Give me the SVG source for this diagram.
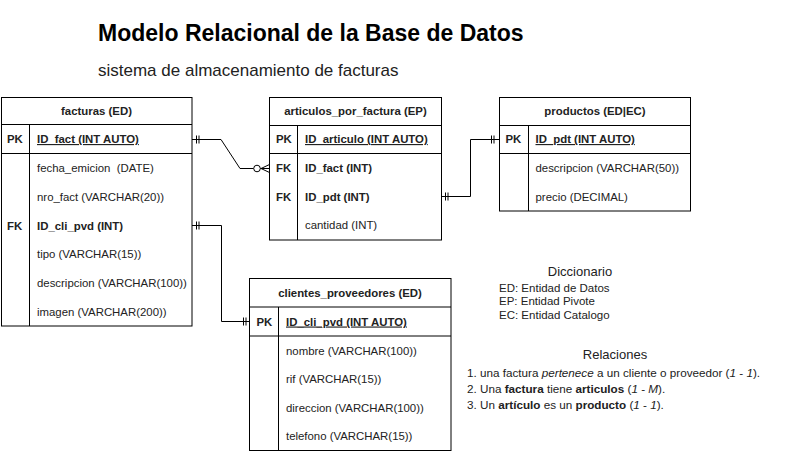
<svg xmlns="http://www.w3.org/2000/svg" width="796" height="451" viewBox="0 0 796 451">
<style>
text{font-family:"Liberation Sans",Arial,sans-serif;fill:#222;white-space:pre}
.tbl{fill:#fff;stroke:#000;stroke-width:1}
.ln{stroke:#000;stroke-width:1;fill:none}
.hd{font-size:11.4px;font-weight:bold;text-anchor:middle}
.key{font-size:11.4px;font-weight:bold}
.f{font-size:11.4px}
.b{font-weight:bold}
.pk{font-weight:bold;text-decoration:underline}
.title{font-size:23px;font-weight:bold;fill:#000}
.sub{font-size:17px}
.dict{font-size:11.5px}
.rel{font-size:11.7px}
.cap{font-size:13px;text-anchor:middle}
.i{font-style:italic}
.conn{stroke:#000;stroke-width:1;fill:none}
</style>
<rect width="796" height="451" fill="#fff"/>
<text class="title" x="98" y="41">Modelo Relacional de la Base de Datos</text>
<text class="sub" x="98" y="76">sistema de almacenamiento de facturas</text>

<g id="facturas">
<rect class="tbl" x="1.5" y="97.5" width="190.5" height="228.5"/>
<path class="ln" d="M1.5 124.5H192M1.5 153.5H192M29.5 124.5V326"/>
<text class="hd" x="96.5" y="114.5">facturas (ED)</text>
<text class="key" x="7" y="143">PK</text>
<text class="f pk" x="37" y="143">ID_fact (INT AUTO)</text>
<text class="f" x="37" y="172" xml:space="preserve">fecha_emicion  (DATE)</text>
<text class="f" x="37" y="200.5">nro_fact (VARCHAR(20))</text>
<text class="key" x="7" y="229.5">FK</text>
<text class="f b" x="37" y="229.5">ID_cli_pvd (INT)</text>
<text class="f" x="37" y="258">tipo (VARCHAR(15))</text>
<text class="f" x="37" y="287">descripcion (VARCHAR(100))</text>
<text class="f" x="37" y="315.5">imagen (VARCHAR(200))</text>
</g>

<g id="articulos_por_factura">
<rect class="tbl" x="269.5" y="97.5" width="172" height="142.5"/>
<path class="ln" d="M269.5 125.5H441.5M269.5 153.5H441.5M297.5 125.5V240"/>
<text class="hd" x="355.5" y="115">articulos_por_factura (EP)</text>
<text class="key" x="276" y="143">PK</text>
<text class="f pk" x="305" y="143">ID_articulo (INT AUTO)</text>
<text class="key" x="276" y="172">FK</text>
<text class="f b" x="305" y="172">ID_fact (INT)</text>
<text class="key" x="276" y="200.5">FK</text>
<text class="f b" x="305" y="200.5">ID_pdt (INT)</text>
<text class="f" x="305" y="229">cantidad (INT)</text>
</g>

<g id="productos">
<rect class="tbl" x="499.5" y="97.5" width="191" height="113.5"/>
<path class="ln" d="M499.5 125.5H690.5M499.5 153.5H690.5M528.5 125.5V211"/>
<text class="hd" x="595" y="115">productos (ED|EC)</text>
<text class="key" x="505.5" y="143">PK</text>
<text class="f pk" x="535.5" y="143">ID_pdt (INT AUTO)</text>
<text class="f" x="535.5" y="172">descripcion (VARCHAR(50))</text>
<text class="f" x="535.5" y="200.5">precio (DECIMAL)</text>
</g>

<g id="clientes_proveedores">
<rect class="tbl" x="249.5" y="278.5" width="201.5" height="172"/>
<path class="ln" d="M249.5 307H451M249.5 336H451M278.5 307V450.5"/>
<text class="hd" x="350" y="296.5">clientes_proveedores (ED)</text>
<text class="key" x="256.5" y="325.5">PK</text>
<text class="f pk" x="286" y="325.5">ID_cli_pvd (INT AUTO)</text>
<text class="f" x="286" y="354.5">nombre (VARCHAR(100))</text>
<text class="f" x="286" y="383">rif (VARCHAR(15))</text>
<text class="f" x="286" y="411.5">direccion (VARCHAR(100))</text>
<text class="f" x="286" y="440">telefono (VARCHAR(15))</text>
</g>

<g id="connectors">
<path class="conn" d="M192 139.5H221L240 168.5H253.5"/>
<path class="conn" d="M196.5 135.5V143.5M199 135.5V143.5"/>
<circle class="conn" cx="257" cy="168.5" r="3.3"/>
<path class="conn" d="M260.3 168.5H269.5M261 168.5L269.5 164.5M261 168.5L269.5 172.5"/>

<path class="conn" d="M192 225.5H221.5V321.5H249.5"/>
<path class="conn" d="M196.5 221.5V229.5M199 221.5V229.5"/>
<path class="conn" d="M243.5 317.5V325.5M246 317.5V325.5"/>

<path class="conn" d="M441.5 196.5H470.5V139.5H499.5"/>
<path class="conn" d="M445.5 192.5V200.5M448 192.5V200.5"/>
<path class="conn" d="M491.5 135.5V143.5M494 135.5V143.5"/>
</g>

<g id="diccionario">
<text class="cap" x="580" y="276">Diccionario</text>
<text class="dict" x="499" y="292">ED: Entidad de Datos</text>
<text class="dict" x="499" y="305">EP: Entidad Pivote</text>
<text class="dict" x="499" y="319">EC: Entidad Catalogo</text>
</g>

<g id="relaciones">
<text class="cap" x="615" y="359">Relaciones</text>
<text class="rel" x="467" y="377">1. una factura <tspan class="i">pertenece</tspan> a un cliente o proveedor (<tspan class="i">1</tspan> - <tspan class="i">1</tspan>).</text>
<text class="rel" x="467" y="393">2. Una <tspan class="b">factura</tspan> tiene <tspan class="b">articulos</tspan> (<tspan class="i">1</tspan> - <tspan class="i">M</tspan>).</text>
<text class="rel" x="467" y="409">3. Un <tspan class="b">artículo</tspan> es un <tspan class="b">producto</tspan> (<tspan class="i">1</tspan> - <tspan class="i">1</tspan>).</text>
</g>
</svg>
